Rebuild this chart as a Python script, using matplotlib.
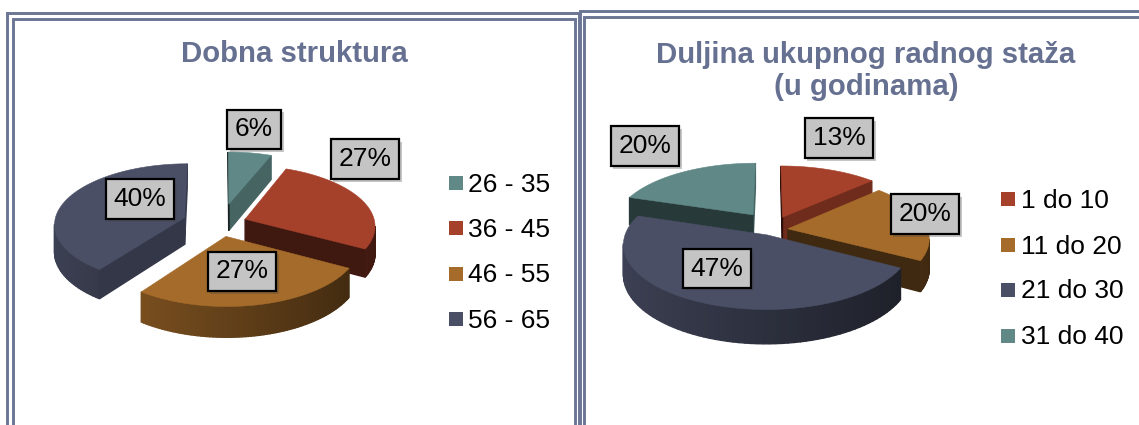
#!/usr/bin/env python3
# Two exploded 3D-look pie charts, drawn with a pixel sized overlay axes
import numpy as np
import matplotlib
matplotlib.use("Agg")
import matplotlib.pyplot as plt
from matplotlib.patches import Polygon, Rectangle
from matplotlib import patheffects as pe

plt.rcParams['font.family'] = ['Liberation Sans', 'DejaVu Sans']

# data
title_left = "Dobna struktura"
cats_left = ["26 - 35", "36 - 45", "46 - 55", "56 - 65"]
vals_left = [6, 27, 27, 40]

title_right = "Duljina ukupnog radnog staža\n(u godinama)"
cats_right = ["1 do 10", "11 do 20", "21 do 30", "31 do 40"]
vals_right = [13, 20, 47, 20]

# styles
TEAL = "#5f8886"
RED = "#a5402a"
BROWN = "#a56b2a"
NAVY = "#4a4f66"
FRAME = "#6b7594"
TITLE = "#667091"

colors_left = [TEAL, RED, BROWN, NAVY]
colors_right = [RED, BROWN, NAVY, TEAL]

left_style = dict(cx=214, cy=222, rx=130, ry=60, depth=27, k=0.10,
                  explode=[0.24, 0.24, 0.24, 0.24],
                  nudge=[(9, -4), (2, 2), (5, 0), (0, 0)],
                  order=[0, 1, 3, 2],
                  boxes=[(254, 129.5), (365, 159), (242, 271.5), (140, 199)])
right_style = dict(cx=767, cy=231, rx=140, ry=62, depth=29, k=0.14,
                   explode=[0.25, 0.15, 0.12, 0.25],
                   nudge=[(2, 0), (0, -1), (7, -3), (6, -4)],
                   order=[3, 0, 1, 2],
                   boxes=[(839, 138), (925, 214), (717, 268.5), (645, 146)])


def shade(color, f):
    rgb = np.array(matplotlib.colors.to_rgb(color))
    return tuple(rgb * f)


def project(x, y, z, st, nudge):
    s = 1 / (1 + st['k'] * y)
    px = st['cx'] + st['rx'] * x * s + nudge[0]
    py = st['cy'] - st['ry'] * y * s + st['depth'] * z * s + nudge[1]
    return px, py


def draw_slice(ax, wedge, color, st, nudge, zorder):
    # wedge comes from ax.pie, only its angles and exploded centre are used
    c = wedge.center
    th = np.radians(np.linspace(wedge.theta1, wedge.theta2, 80))
    xs = np.r_[c[0], c[0] + np.cos(th)]
    ys = np.r_[c[1], c[1] + np.sin(th)]
    top = np.array([project(x, y, 0, st, nudge) for x, y in zip(xs, ys)])
    bot = np.array([project(x, y, 1, st, nudge) for x, y in zip(xs, ys)])
    n = len(xs)
    for i in range(n):
        j = (i + 1) % n
        # walking ccw on the pie, so a wall faces the viewer if it runs rightward
        if top[j, 0] <= top[i, 0]:
            continue
        radial = i == 0 or j == 0
        if radial:
            dx, dy = xs[j] - xs[i], ys[j] - ys[i]
            f = 0.5 + 0.25 * dy / np.hypot(dx, dy)
        else:
            f = 0.6 - 0.22 * np.cos((th[i - 1] + th[j - 1]) / 2)
        ax.add_patch(Polygon([top[i], top[j], bot[j], bot[i]], closed=True,
                             fc=shade(color, f), ec=shade(color, f), lw=1.0,
                             zorder=zorder))
    ax.add_patch(Polygon(top, closed=True, fc=color, ec=color, lw=0.4,
                         zorder=zorder + 0.1))


def draw_pie(ax, vals, colors, st):
    wedges, _ = ax.pie(vals, startangle=90, counterclock=False,
                       explode=st['explode'])
    for w in wedges:
        w.set_visible(False)
    for n, i in enumerate(st['order']):
        draw_slice(ax, wedges[i], colors[i], st, st['nudge'][i], 2 + n)
    total = sum(vals)
    for v, (bx, by) in zip(vals, st['boxes']):
        t = ax.text(bx, by, f"{100 * v / total:.0f}%", fontsize=19, color="black",
                    ha="center", va="center", zorder=20,
                    bbox=dict(boxstyle="square,pad=0.3", fc="#c4c4c4", ec="black", lw=1.6))
        t.get_bbox_patch().set_path_effects([
            pe.SimplePatchShadow(offset=(2, -2), alpha=0.3, shadow_rgbFace="#444444"),
            pe.Normal()])


def draw_legend(ax, cats, colors, x_sq, x_txt, ys):
    for cat, col, y in zip(cats, colors, ys):
        ax.add_patch(Rectangle((x_sq, y - 7), 14, 14, fc=col, ec="none", zorder=5))
        ax.text(x_txt, y + 1.5, cat, fontsize=19, color="black", va="center", ha="left")


fig = plt.figure(figsize=(11.39, 4.25), dpi=100)
ax = fig.add_axes([0, 0, 1, 1])

draw_pie(ax, vals_left, colors_left, left_style)
draw_pie(ax, vals_right, colors_right, right_style)

# pie() forces equal aspect and its own limits, go back to pixels
ax.set_aspect('auto')
ax.set_xlim(0, 1139)
ax.set_ylim(425, 0)
ax.axis('off')

# double frames
for xs, ys in [([7, 7, 579, 579], [430, 12.5, 12.5, 430]),
               ([12.5, 12.5, 575, 575], [430, 18.5, 18.5, 430]),
               ([579.5, 579.5, 1145], [430, 10.5, 10.5]),
               ([584, 584, 1145], [430, 16.5, 16.5])]:
    ax.plot(xs, ys, color=FRAME, lw=2.1, solid_joinstyle='miter', zorder=1)

ax.text(294, 54, title_left, fontsize=21.2, fontweight='bold', color=TITLE,
        ha='center', va='center')
ax.text(866, 71, title_right, fontsize=21.2, fontweight='bold', color=TITLE,
        ha='center', va='center', linespacing=1.15)

draw_legend(ax, cats_left, colors_left, 449, 468, [183, 228, 274, 319])
draw_legend(ax, cats_right, colors_right, 1001, 1021, [199, 245, 290, 336])

fig.savefig("out.png", dpi=100)
